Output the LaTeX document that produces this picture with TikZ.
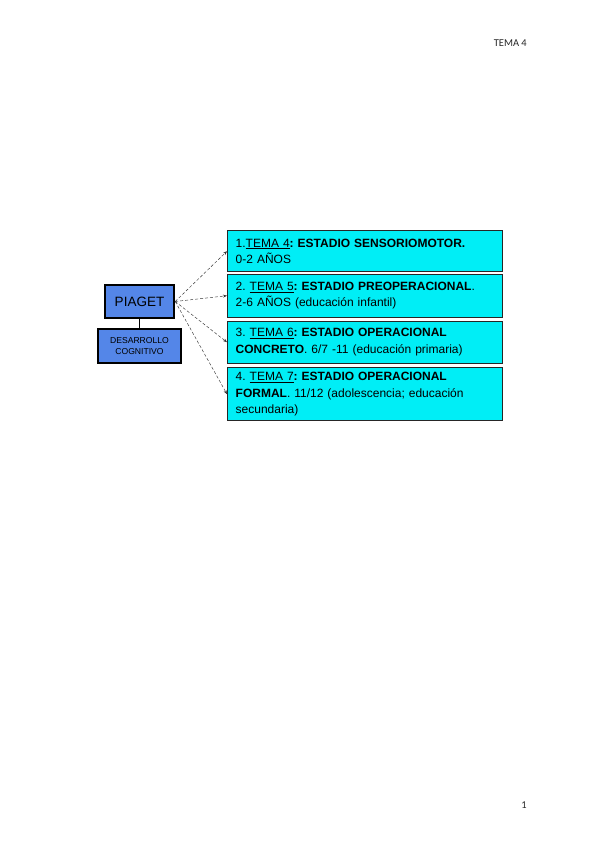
\documentclass[tikz,border=0pt]{standalone}
\usepackage{fontspec}
\setmainfont{Liberation Sans}
\newfontfamily\carl{Carlito}
\usetikzlibrary{arrows.meta}
\definecolor{boxcyan}{RGB}{0,238,246}
\definecolor{boxblue}{RGB}{84,134,232}
\frenchspacing
\begin{document}
\begin{tikzpicture}[x=1pt,y=-1pt,
  stagebox/.style={draw=black!85,line width=1.4pt,fill=boxcyan,minimum width=275pt,text width=259pt,inner xsep=8pt,align=left,font=\fontsize{12}{16.5}\selectfont\frenchspacing,anchor=north west},
  bluebox/.style={draw=black,fill=boxblue},
  link/.style={->,densely dashed,line width=0.45pt,black!80,>={Stealth[length=4pt,width=3pt]}}]
\useasboundingbox (0,0) rectangle (600,848);
\node[font=\carl\fontsize{10.5}{12}\selectfont,text=black!85,anchor=base east,inner sep=0pt] (hdr) at (527,47) {TEMA 4};
\node[font=\carl\fontsize{10.5}{12}\selectfont,text=black!85,anchor=base east,inner sep=0pt] (pg) at (527,808) {1};
\node[bluebox,line width=2.4pt,minimum width=69pt,minimum height=33pt,font=\fontsize{13.5}{15}\selectfont] (piaget) at (139.5,301.5) {PIAGET};
\node[bluebox,line width=1.4pt,minimum width=83pt,minimum height=34pt,align=center,font=\fontsize{8.6}{10.5}\selectfont] (des) at (139.5,346) {DESARROLLO\\COGNITIVO};
\draw[line width=1pt] (piaget.south) -- (des.north);
\node[stagebox,minimum height=41pt] (b1) at (227,230) {1.\underline{TEMA 4}\textbf{: ESTADIO SENSORIOMOTOR.}\\0-2 AÑOS};
\node[stagebox,minimum height=43pt] (b2) at (227,273.5) {2. \underline{TEMA 5}\textbf{: ESTADIO PREOPERACIONAL}.\\2-6 AÑOS (educación infantil)};
\node[stagebox,minimum height=42pt] (b3) at (227,320.5) {3. \underline{TEMA 6}\textbf{: ESTADIO OPERACIONAL}\\\textbf{CONCRETO}. 6/7 -11 (educación primaria)};
\node[stagebox,minimum height=53pt] (b4) at (227,367) {4. \underline{TEMA 7}\textbf{: ESTADIO OPERACIONAL}\\\textbf{FORMAL}. 11/12 (adolescencia; educación\\secundaria)};
\foreach \b in {b1,b2,b3,b4}{\draw[link] (piaget.east) -- (\b.west);}
\end{tikzpicture}
\end{document}
